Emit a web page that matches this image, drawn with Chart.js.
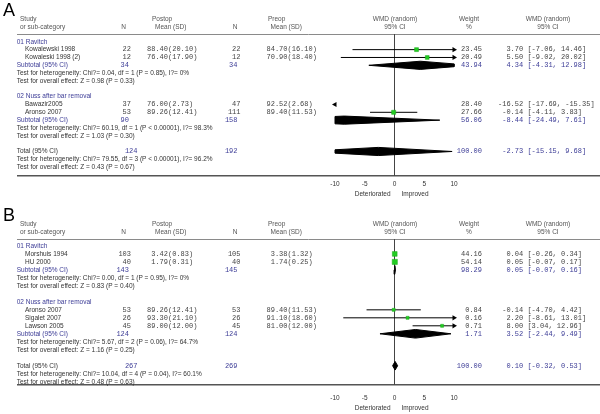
<!DOCTYPE html>
<html><head><meta charset="utf-8">
<script src="https://cdn.jsdelivr.net/npm/chart.js@4.4.1/dist/chart.umd.min.js"></script>
<style>
html,body{margin:0;padding:0;background:#fff;}
#wrap{position:relative;width:600px;height:414px;overflow:hidden;}
.panel{position:absolute;left:0;width:600px;height:207px;}
canvas{display:block;}
</style></head><body>
<div id="wrap">
<div class="panel" style="top:0"><canvas id="cA" width="600" height="207"></canvas></div>
<div class="panel" style="top:207px"><canvas id="cB" width="600" height="207"></canvas></div>
</div>
<script>
// ---------- Panel A data ----------
const A_groups = ['01 Ravitch', '02 Nuss after bar removal'];
const A_study = ['Kowalewski 1998', 'Kowaleski 1998 (2)', 'Bawazir2005', 'Aronso 2007'];
const A_group = [0, 0, 1, 1];
const A_postN = [22, 12, 37, 53];
const A_postMean = [88.40, 76.40, 76.00, 89.26];
const A_postSD = [20.10, 17.90, 2.73, 12.41];
const A_preN = [22, 12, 47, 111];
const A_preMean = [84.70, 70.90, 92.52, 89.40];
const A_preSD = [16.10, 18.40, 2.68, 11.53];
const A_weight = [23.45, 20.49, 28.40, 27.66];
const A_wmd = [3.70, 5.50, -16.52, -0.14];
const A_lo = [-7.06, -9.02, -17.69, -4.11];
const A_hi = [14.46, 20.02, -15.35, 3.83];
const A_subPostN = [34, 90];
const A_subPreN = [34, 158];
const A_subWeight = [43.94, 56.06];
const A_subWmd = [4.34, -8.44];
const A_subLo = [-4.31, -24.49];
const A_subHi = [12.98, 7.61];
const A_subHet = ['Test for heterogeneity: Chi?= 0.04, df = 1 (P = 0.85), I?= 0%',
                  'Test for heterogeneity: Chi?= 60.19, df = 1 (P < 0.00001), I?= 98.3%'];
const A_subZ = ['Test for overall effect: Z = 0.98 (P = 0.33)',
                'Test for overall effect: Z = 1.03 (P = 0.30)'];
const A_total = [124, 192, 100.00, -2.73, -15.15, 9.68]; // postN, preN, weight, wmd, lo, hi
const A_totalHet = 'Test for heterogeneity: Chi?= 79.55, df = 3 (P < 0.00001), I?= 96.2%';
const A_totalZ = 'Test for overall effect: Z = 0.43 (P = 0.67)';

// ---------- Panel B data ----------
const B_groups = ['01 Ravitch', '02 Nuss after bar removal'];
const B_study = ['Morshuis 1994', 'HU 2000', 'Aronso 2007', 'Sigalet 2007', 'Lawson 2005'];
const B_group = [0, 0, 1, 1, 1];
const B_postN = [103, 40, 53, 26, 45];
const B_postMean = [3.42, 1.79, 89.26, 93.30, 89.00];
const B_postSD = [0.83, 0.31, 12.41, 21.10, 12.00];
const B_preN = [105, 40, 53, 26, 45];
const B_preMean = [3.38, 1.74, 89.40, 91.10, 81.00];
const B_preSD = [1.32, 0.25, 11.53, 18.60, 12.00];
const B_weight = [44.16, 54.14, 0.84, 0.16, 0.71];
const B_wmd = [0.04, 0.05, -0.14, 2.20, 8.00];
const B_lo = [-0.26, -0.07, -4.70, -8.61, 3.04];
const B_hi = [0.34, 0.17, 4.42, 13.01, 12.96];
const B_subPostN = [143, 124];
const B_subPreN = [145, 124];
const B_subWeight = [98.29, 1.71];
const B_subWmd = [0.05, 3.52];
const B_subLo = [-0.07, -2.44];
const B_subHi = [0.16, 9.49];
const B_subHet = ['Test for heterogeneity: Chi?= 0.00, df = 1 (P = 0.95), I?= 0%',
                  'Test for heterogeneity: Chi?= 5.67, df = 2 (P = 0.06), I?= 64.7%'];
const B_subZ = ['Test for overall effect: Z = 0.83 (P = 0.40)',
                'Test for overall effect: Z = 1.16 (P = 0.25)'];
const B_total = [267, 269, 100.00, 0.10, -0.32, 0.53];
const B_totalHet = 'Test for heterogeneity: Chi?= 10.04, df = 4 (P = 0.04), I?= 60.1%';
const B_totalZ = 'Test for overall effect: Z = 0.48 (P = 0.63)';

const X_TICKS = [-10, -5, 0, 5, 10];
const AXIS_WORDS = ['Deteriorated', 'Improved'];

// ---------- styling / layout ----------
const SANS = '"Liberation Sans", Arial, sans-serif';
const MONO = '"Liberation Mono", "Courier New", monospace';
const FS = 6.5, FM = 7;
const GREEN = '#22cc22', BLUE = '#3c3c96', DARK = '#333333', GRAY = '#555555';
const XMIN = -10, XMAX = 10;
const COL = {left:16.7, name:25, nPost:131, nPostSub:129, nPostTot:137.5, mPost:147,
             nPre:240.5, nPreSub:237.5, nPreTot:237.5, mPre:266.5, w:482, ci:498};

function f2(v){ return v.toFixed(2); }

function clipPoly(poly, bound, isMin) {
  const inside = p => isMin ? p[0] >= bound : p[0] <= bound;
  const out = [];
  for (let i = 0; i < poly.length; i++) {
    const a = poly[i], b = poly[(i + 1) % poly.length];
    const ia = inside(a), ib = inside(b);
    if (ia) out.push(a);
    if (ia !== ib) {
      const t = (bound - a[0]) / (b[0] - a[0]);
      out.push([bound, a[1] + t * (b[1] - a[1])]);
    }
  }
  return out;
}
function diamondPts(est, lo, hi, r, h) {
  let poly = [[lo, r], [est, r - h], [hi, r], [est, r + h]];
  poly = clipPoly(poly, XMIN, true);
  poly = clipPoly(poly, XMAX, false);
  poly.push(poly[0]);
  return poly.map(p => ({x: p[0], y: p[1]}));
}

function buildPanel(canvasId, letter, P, L) {
  const toRow = pix => (pix - L.row0) / L.step;
  const texts = [], squares = [], arrows = [], lines = [], diamonds = [];
  const T = (t, x, r, opt) => texts.push(Object.assign({t, x, r, align:'left', mono:false, c:DARK}, opt || {}));
  // header
  const h1 = toRow(L.hdr1), h2 = toRow(L.hdr2);
  T('Study', 20, h1, {c:GRAY}); T('or sub-category', 20, h2, {c:GRAY});
  T('N', 123.5, h2, {c:GRAY, align:'center'});
  T('Postop', 152, h1, {c:GRAY}); T('Mean (SD)', 155, h2, {c:GRAY});
  T('N', 235, h2, {c:GRAY, align:'center'});
  T('Preop', 268, h1, {c:GRAY}); T('Mean (SD)', 270.5, h2, {c:GRAY});
  T('WMD (random)', 395, h1, {c:GRAY, align:'center'}); T('95% CI', 395, h2, {c:GRAY, align:'center'});
  T('Weight', 469, h1, {c:GRAY, align:'center'}); T('%', 469, h2, {c:GRAY, align:'center'});
  T('WMD (random)', 548, h1, {c:GRAY, align:'center'}); T('95% CI', 548, h2, {c:GRAY, align:'center'});

  const ciText = (e, lo, hi) => f2(e).padStart(6, ' ') + ' [' + f2(lo) + ', ' + f2(hi) + ']';
  let r = 0;
  P.groups.forEach((g, gi) => {
    T(g, COL.left, r, {c:BLUE}); r++;
    P.study.forEach((s, i) => {
      if (P.group[i] !== gi) return;
      T(s, COL.name, r);
      T(String(P.postN[i]), COL.nPost, r, {mono:true, align:'right', c:'#444'});
      T(f2(P.postMean[i]).padStart(5, ' ') + '(' + f2(P.postSD[i]) + ')', COL.mPost, r, {mono:true, c:'#444'});
      T(String(P.preN[i]), COL.nPre, r, {mono:true, align:'right', c:'#444'});
      T(f2(P.preMean[i]).padStart(5, ' ') + '(' + f2(P.preSD[i]) + ')', COL.mPre, r, {mono:true, c:'#444'});
      T(f2(P.weight[i]), COL.w, r, {mono:true, align:'right', c:'#444'});
      T(ciText(P.wmd[i], P.lo[i], P.hi[i]), COL.ci, r, {mono:true, c:'#444'});
      const lo = P.lo[i], hi = P.hi[i], e = P.wmd[i];
      const cl = Math.max(lo, XMIN), ch = Math.min(hi, XMAX);
      if (ch > cl) lines.push([{x:cl, y:r}, {x:ch, y:r}]);
      if (e >= XMIN && e <= XMAX) squares.push({x:e, y:r, w:P.weight[i]});
      if (hi > XMAX && lo < XMAX) arrows.push({x:XMAX, y:r, rot:90});
      if (lo < XMIN) arrows.push({x:XMIN, y:r, rot:-90});
      r++;
    });
    T('Subtotal (95% CI)', COL.left, r, {c:BLUE});
    T(String(P.subPostN[gi]), COL.nPostSub, r, {mono:true, align:'right', c:BLUE});
    T(String(P.subPreN[gi]), COL.nPreSub, r, {mono:true, align:'right', c:BLUE});
    T(f2(P.subWeight[gi]), COL.w, r, {mono:true, align:'right', c:BLUE});
    T(ciText(P.subWmd[gi], P.subLo[gi], P.subHi[gi]), COL.ci, r, {mono:true, c:BLUE});
    diamonds.push(diamondPts(P.subWmd[gi], P.subLo[gi], P.subHi[gi], r, L.dh));
    r++;
    T(P.subHet[gi], COL.left, r); r++;
    T(P.subZ[gi], COL.left, r); r++;
    r++;
  });
  const tt = P.total;
  T('Total (95% CI)', COL.left, r);
  T(String(tt[0]), COL.nPostTot, r, {mono:true, align:'right', c:BLUE});
  T(String(tt[1]), COL.nPreTot, r, {mono:true, align:'right', c:BLUE});
  T(f2(tt[2]), COL.w, r, {mono:true, align:'right', c:BLUE});
  T(ciText(tt[3], tt[4], tt[5]), COL.ci, r, {mono:true, c:BLUE});
  diamonds.push(diamondPts(tt[3], tt[4], tt[5], r, L.dh));
  r++;
  T(P.totalHet, COL.left, r); r++;
  T(P.totalZ, COL.left, r); r++;

  const sepR = toRow(L.sep), axisR = toRow(L.axis);
  const datasets = [];
  datasets.push({type:'scatter', data:squares.map(p => ({x:p.x, y:p.y})), pointStyle:'rect',
    pointRadius:squares.map(p => (3 + p.w / 25) / Math.SQRT2), backgroundColor:GREEN,
    borderColor:'#1aa81a', borderWidth:0.5, order:0, clip:false});
  datasets.push({type:'scatter', data:arrows.map(p => ({x:p.x, y:p.y})), pointStyle:'triangle',
    pointRotation:arrows.map(p => p.rot), pointRadius:3, backgroundColor:'#000', borderColor:'#000',
    borderWidth:0, order:1, clip:false});
  diamonds.forEach(d => datasets.push({type:'line', data:d, borderColor:'#000', backgroundColor:'#000',
    borderWidth:1, fill:'shape', pointRadius:0, tension:0, order:2, clip:false}));
  lines.forEach(l => datasets.push({type:'line', data:l, borderColor:'#000', borderWidth:1,
    fill:false, pointRadius:0, order:3, clip:false}));
  datasets.push({type:'line', data:[{x:0, y:sepR}, {x:0, y:axisR}], borderColor:'#444', borderWidth:1,
    fill:false, pointRadius:0, order:4, clip:false});

  const tablePlugin = {
    id:'table' + letter,
    beforeDatasetsDraw(chart) {
      const ctx = chart.ctx, ys = chart.scales.y;
      ctx.save();
      let y = Math.round(ys.getPixelForValue(sepR)) + 0.5;
      ctx.strokeStyle = '#8a8a8a'; ctx.lineWidth = 1;
      ctx.beginPath(); ctx.moveTo(17, y); ctx.lineTo(600, y); ctx.stroke();
      y = ys.getPixelForValue(axisR);
      ctx.strokeStyle = '#555'; ctx.lineWidth = 1.5;
      ctx.beginPath(); ctx.moveTo(17, y); ctx.lineTo(600, y); ctx.stroke();
      ctx.restore();
    },
    afterDraw(chart) {
      const ctx = chart.ctx, ys = chart.scales.y, xs = chart.scales.x;
      ctx.save();
      ctx.textBaseline = 'middle';
      texts.forEach(o => {
        ctx.font = (o.mono ? FM + 'px ' + MONO : FS + 'px ' + SANS);
        ctx.fillStyle = o.c; ctx.textAlign = o.align;
        ctx.fillText(o.t, o.x, ys.getPixelForValue(o.r));
      });
      const z = xs.getPixelForValue(0);
      ctx.font = FS + 'px ' + SANS; ctx.fillStyle = DARK;
      ctx.textAlign = 'right'; ctx.fillText(AXIS_WORDS[0], z - 4, L.words);
      ctx.textAlign = 'left'; ctx.fillText(AXIS_WORDS[1], z + 7, L.words);
      ctx.font = '18px ' + SANS; ctx.fillStyle = '#000'; ctx.textAlign = 'left';
      ctx.fillText(letter, 3, L.letter);
      ctx.restore();
    }
  };

  return new Chart(document.getElementById(canvasId), {
    type:'scatter',
    data:{datasets},
    options:{
      responsive:false, animation:false, events:[],
      layout:{padding:{left:335, right:146, top:0, bottom:0}},
      plugins:{legend:{display:false}, tooltip:{enabled:false}, title:{display:false}},
      scales:{
        x:{type:'linear', min:XMIN, max:XMAX, position:{y:axisR},
           grid:{display:false, drawTicks:false}, border:{display:false},
           afterBuildTicks:s => { s.ticks = X_TICKS.map(v => ({value:v})); },
           ticks:{font:{family:SANS, size:FS}, color:DARK, padding:L.tickPad, maxRotation:0, autoSkip:false}},
        y:{type:'linear', display:false, reverse:true,
           min:-L.row0 / L.step, max:(207 - L.row0) / L.step}
      }
    },
    plugins:[tablePlugin]
  });
}

buildPanel('cA', 'A', {
  groups:A_groups, study:A_study, group:A_group, postN:A_postN, postMean:A_postMean, postSD:A_postSD,
  preN:A_preN, preMean:A_preMean, preSD:A_preSD, weight:A_weight, wmd:A_wmd, lo:A_lo, hi:A_hi,
  subPostN:A_subPostN, subPreN:A_subPreN, subWeight:A_subWeight, subWmd:A_subWmd, subLo:A_subLo, subHi:A_subHi,
  subHet:A_subHet, subZ:A_subZ, total:A_total, totalHet:A_totalHet, totalZ:A_totalZ
}, {row0:39, step:8.19, hdr1:15, hdr2:24, sep:31, axis:179, tickPad:5, words:194.5, letter:11.5, dh:0.52});

buildPanel('cB', 'B', {
  groups:B_groups, study:B_study, group:B_group, postN:B_postN, postMean:B_postMean, postSD:B_postSD,
  preN:B_preN, preMean:B_preMean, preSD:B_preSD, weight:B_weight, wmd:B_wmd, lo:B_lo, hi:B_hi,
  subPostN:B_subPostN, subPreN:B_subPreN, subWeight:B_subWeight, subWmd:B_subWmd, subLo:B_subLo, subHi:B_subHi,
  subHet:B_subHet, subZ:B_subZ, total:B_total, totalHet:B_totalHet, totalZ:B_totalZ
}, {row0:36, step:8.35, hdr1:13, hdr2:22, sep:29, axis:181, tickPad:9.8, words:201, letter:9.5, dh:0.54});
</script>
</body></html>
